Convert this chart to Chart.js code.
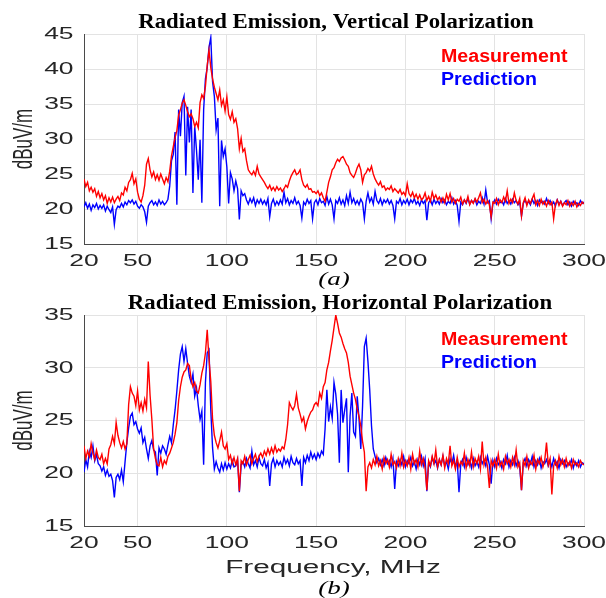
<!DOCTYPE html>
<html><head><meta charset="utf-8">
<script src="https://cdn.jsdelivr.net/npm/chart.js@4.4.1/dist/chart.umd.min.js"></script>
<style>
html,body{margin:0;padding:0;background:#fff;}
#wrap{position:relative;width:606px;height:598px;overflow:hidden;background:#fff;}
canvas{position:absolute;left:0;top:0;}
</style></head><body>
<div id="wrap"><canvas id="cv" width="606" height="598"></canvas><canvas id="ch" width="606" height="598"></canvas></div>
<script>
// ---------- DATA ----------
const freqMHz = [
 20,21,22,23,24,25,26,27,28,29,30,31,32,33,34,35,36,37,38,39,
 40,41,42,43,44,45,46,47,48,49,50,51,52,53,54,55,56,57,58,59,
 60,61,62,63,64,65,66,67,68,69,70,71,72,73,74,75,76,77,78,79,
 80,81,82,83,84,85,86,87,88,89,90,91,92,93,94,95,96,97,98,99,
 100,101,102,103,104,105,106,107,108,109,110,111,112,113,114,115,116,117,118,119,
 120,121,122,123,124,125,126,127,128,129,130,131,132,133,134,135,136,137,138,139,
 140,141,142,143,144,145,146,147,148,149,150,151,152,153,154,155,156,157,158,159,
 160,161,162,163,164,165,166,167,168,169,170,171,172,173,174,175,176,177,178,179,
 180,181,182,183,184,185,186,187,188,189,190,191,192,193,194,195,196,197,198,199,
 200,201,202,203,204,205,206,207,208,209,210,211,212,213,214,215,216,217,218,219,
 220,221,222,223,224,225,226,227,228,229,230,231,232,233,234,235,236,237,238,239,
 240,241,242,243,244,245,246,247,248,249,250,251,252,253,254,255,256,257,258,259,
 260,261,262,263,264,265,266,267,268,269,270,271,272,273,274,275,276,277,278,279,
 280,281,282,283,284,285,286,287,288,289,290,291,292,293,294,295,296,297,298,299,
 300
];

// (a) Vertical polarization
const vertMeasurement = [
 24.3,23.2,23.8,22.6,23.1,22.4,22.9,21.8,22.5,21.6,
 22.2,21.3,21.9,20.8,21.6,21.0,21.7,20.9,21.4,21.8,
 21.2,22.3,22.0,23.1,22.6,23.8,24.2,25.1,23.6,24.3,
 22.4,21.4,21.0,21.9,23.4,26.4,27.2,25.6,24.6,25.3,
 24.2,24.9,24.1,25.0,24.3,23.6,24.5,23.9,25.4,27.6,
 28.9,30.2,31.2,33.4,34.2,35.1,35.6,34.8,33.9,33.2,
 33.6,32.9,31.8,32.4,31.6,35.2,36.3,35.8,37.5,40.5,
 42.7,40.2,38.6,37.4,36.5,35.6,37.0,34.8,35.6,34.0,
 36.0,33.5,32.8,33.9,32.4,32.9,31.5,28.6,30.1,28.2,
 28.6,26.9,25.6,25.2,24.9,25.4,24.8,26.1,25.0,24.6,
 24.2,23.8,23.3,22.9,23.4,22.7,23.1,22.6,23.2,22.7,
 23.0,22.5,22.9,23.4,23.1,24.0,24.7,25.2,25.6,24.9,
 25.1,25.6,24.2,23.4,23.1,23.5,22.8,22.9,22.4,22.5,
 22.2,22.6,21.9,22.3,21.6,21.1,22.4,23.8,24.6,25.6,
 25.9,26.6,27.1,26.8,27.3,27.5,27.0,26.4,26.1,25.2,
 24.8,24.5,25.1,25.9,26.4,25.6,23.8,24.9,25.2,25.8,
 25.4,26.1,25.0,24.3,23.8,23.4,23.9,23.1,23.3,22.7,
 23.0,22.8,23.3,22.5,22.9,22.6,22.3,22.8,22.1,22.4,
 21.9,23.6,22.2,21.8,22.4,21.6,22.1,21.4,22.0,21.3,
 21.6,22.3,21.2,21.8,21.1,22.4,21.5,22.0,21.3,21.7,
 21.0,21.6,20.9,22.1,21.3,22.2,21.0,21.5,20.8,21.4,
 21.1,21.7,20.7,21.3,20.9,21.8,20.6,21.2,20.8,21.5,
 21.0,21.6,22.3,20.9,21.4,20.7,21.2,20.6,18.9,21.0,
 20.8,21.5,20.6,21.3,20.9,21.7,21.1,22.6,20.8,21.4,
 20.9,22.3,21.2,20.7,21.5,19.0,20.9,21.6,20.5,21.3,
 20.8,21.5,22.1,20.6,21.2,20.5,21.4,20.7,21.1,20.4,
 21.2,20.6,21.0,18.6,20.7,21.3,20.5,21.1,20.4,20.9,
 20.6,21.2,20.4,20.9,20.5,21.1,20.3,20.8,20.5,21.0,
 20.7
];
const vertPrediction = [
 20.3,20.9,20.1,20.7,19.8,20.6,20.2,20.8,20.0,20.5,
 20.1,20.6,19.7,20.4,19.9,19.5,20.3,17.8,19.9,20.4,
 20.2,20.8,20.3,21.0,20.6,21.2,20.9,21.3,20.7,21.1,
 20.4,20.1,20.6,20.3,19.6,18.1,20.4,20.9,21.2,20.6,
 21.0,20.5,21.3,20.7,21.1,20.6,20.9,21.4,23.3,26.9,
 27.8,31.0,20.6,34.2,30.4,35.2,36.1,24.8,34.6,29.5,
 34.2,22.3,31.8,28.4,24.2,29.9,20.9,34.2,38.6,40.2,
 43.1,44.5,38.2,36.1,31.3,33.0,20.4,29.8,27.5,28.6,
 26.0,20.8,25.2,24.3,22.6,24.0,22.9,18.5,22.6,21.9,
 22.2,21.3,20.7,21.5,20.9,21.6,20.5,21.3,20.8,21.4,
 20.7,21.2,20.6,21.5,18.9,20.8,21.4,20.5,21.1,20.6,
 21.3,20.7,22.4,20.9,21.5,20.6,21.2,20.8,21.6,20.7,
 21.1,20.5,18.7,21.0,20.6,21.4,20.8,21.2,18.6,20.9,
 21.3,20.6,21.5,20.9,21.1,20.5,21.8,20.7,21.4,20.6,
 18.6,21.2,20.8,21.6,20.7,21.3,20.5,21.9,20.8,22.4,
 20.9,21.5,20.7,21.2,20.6,21.4,20.9,18.6,21.1,22.3,
 21.0,21.6,20.7,22.5,21.2,20.8,21.5,20.6,21.3,20.9,
 21.4,20.7,21.2,20.5,18.6,21.1,20.8,21.5,20.6,21.2,
 20.8,21.4,20.6,21.3,20.9,21.5,20.7,21.1,20.5,21.3,
 20.8,21.2,18.4,20.9,21.3,20.6,21.4,20.8,21.2,20.7,
 21.5,20.9,21.3,20.6,21.1,20.8,21.6,20.7,21.2,20.5,
 18.2,21.0,20.6,21.3,20.8,21.5,20.7,21.2,20.9,21.4,
 20.6,21.1,20.8,21.6,20.7,22.7,20.9,21.2,18.6,20.8,
 21.3,20.7,21.4,20.9,21.1,20.6,21.5,20.8,21.2,20.7,
 21.4,20.9,21.2,20.6,21.0,19.0,20.8,21.3,20.7,21.1,
 20.6,21.4,20.8,21.2,20.5,21.3,20.9,21.1,20.7,21.5,
 20.8,21.2,20.6,21.0,20.4,21.3,20.7,21.1,20.5,20.9,
 21.2,20.6,21.0,20.4,21.1,20.7,20.9,20.5,21.2,20.8,
 21.0
];

// (b) Horizontal polarization
const horizMeasurement = [
 22.6,21.4,22.1,21.6,22.8,21.9,21.3,22.2,21.5,21.3,
 21.8,20.9,21.4,20.9,22.3,22.7,23.5,22.8,24.8,23.6,
 22.9,22.4,23.0,22.3,22.8,26.5,28.2,27.6,27.3,26.4,
 27.8,26.0,26.7,25.9,27.0,26.2,30.6,27.4,25.1,22.3,
 21.4,20.8,20.7,21.5,20.6,21.2,20.9,21.6,21.9,22.4,
 22.9,23.7,24.8,26.9,28.2,29.1,29.6,29.8,30.4,30.2,
 28.9,28.2,28.6,27.8,27.6,28.4,29.5,30.2,31.4,33.6,
 30.8,28.7,25.1,23.6,22.9,22.4,23.1,23.9,22.6,22.3,
 22.8,21.3,21.7,20.9,21.5,20.8,21.4,18.3,21.2,20.9,
 21.6,20.8,21.3,21.7,20.9,21.4,21.8,21.1,21.6,21.9,
 21.5,22.1,21.7,22.3,21.8,22.4,21.9,22.6,22.0,22.3,
 22.1,22.5,22.3,23.2,24.6,26.7,26.3,26.0,26.4,27.5,
 26.2,25.6,24.9,25.3,24.2,24.9,25.4,25.8,26.0,26.5,
 26.7,26.4,27.6,27.1,28.2,28.6,29.8,30.5,31.6,32.6,
 33.8,35.0,34.2,33.3,32.9,32.3,31.8,31.4,30.5,29.2,
 28.4,27.6,27.0,26.1,25.4,24.5,23.0,22.0,18.3,20.6,
 21.0,20.5,21.3,20.8,21.6,20.7,21.2,20.4,21.5,20.9,
 21.3,20.6,21.8,20.8,21.1,20.5,21.4,20.7,21.9,20.6,
 21.2,20.7,21.5,20.4,21.8,20.9,21.3,20.6,22.1,20.8,
 21.4,20.5,18.4,21.2,20.7,21.6,20.9,22.2,20.6,21.3,
 20.8,21.7,20.5,21.4,20.9,22.6,20.7,21.2,20.4,21.5,
 20.6,21.1,20.8,21.9,20.5,21.3,20.7,22.0,20.6,21.4,
 20.9,21.6,20.4,23.0,20.8,21.5,20.6,18.6,21.2,20.7,
 21.3,20.5,21.8,20.7,21.1,20.4,21.6,20.9,21.3,20.6,
 21.5,20.8,22.2,20.6,21.0,18.4,21.2,20.7,21.6,20.5,
 21.1,20.8,21.7,20.4,21.3,20.9,21.5,20.6,21.2,22.9,
 20.8,21.4,18.0,20.7,21.2,20.5,21.6,20.8,21.3,20.6,
 21.4,20.7,21.1,20.5,21.3,20.8,21.0,20.6,21.2,20.9,
 20.8
];
const horizPrediction = [
 20.1,21.3,20.6,22.1,21.5,22.6,21.2,21.8,20.9,20.7,
 20.2,20.6,19.8,20.3,19.7,19.9,19.3,17.7,19.6,19.9,
 19.4,20.3,19.2,21.1,22.9,24.3,25.4,25.7,24.6,24.9,
 24.2,23.8,24.3,22.9,23.4,22.3,21.4,22.6,23.1,22.2,
 22.0,19.8,22.4,21.9,22.6,22.3,21.8,22.7,23.5,22.9,
 24.6,26.0,27.8,29.8,31.3,32.0,30.6,31.8,30.4,29.2,
 28.6,29.4,27.3,28.1,26.4,25.1,25.9,20.8,28.6,31.4,
 31.7,26.0,22.4,20.4,21.1,20.5,20.1,20.9,20.3,21.0,
 20.4,20.9,20.5,21.2,20.6,20.7,21.3,18.2,20.8,21.1,
 20.6,21.4,20.9,20.5,22.1,20.8,21.2,20.6,21.5,20.9,
 20.7,21.3,20.5,21.0,18.8,20.9,21.4,20.6,21.2,20.8,
 21.1,20.6,21.5,20.9,21.3,20.7,21.6,21.0,20.8,21.4,
 20.9,21.2,18.8,21.5,21.0,21.7,21.2,22.0,21.4,21.8,
 21.3,21.9,21.5,22.1,21.8,24.2,27.9,24.9,26.3,25.2,
 28.6,27.5,25.6,21.0,27.9,24.8,26.0,27.1,20.1,25.4,
 27.6,23.9,23.5,27.3,25.2,22.3,26.4,32.0,32.8,30.6,
 27.9,24.5,22.3,21.6,21.0,21.4,20.8,21.3,20.7,21.5,
 20.9,21.2,20.6,21.4,18.5,21.1,20.7,21.3,20.8,21.6,
 20.6,21.2,20.9,21.5,20.7,21.1,20.4,21.3,20.8,21.6,
 20.7,21.4,18.3,21.0,20.6,21.5,20.9,21.2,20.5,21.3,
 20.8,21.6,20.7,21.1,20.4,21.4,20.9,21.7,20.6,21.2,
 18.2,20.9,21.3,20.6,21.5,20.8,21.2,20.5,21.4,20.7,
 21.1,20.6,21.5,20.9,21.3,20.7,21.6,20.8,19.0,21.2,
 20.6,21.4,20.8,21.1,20.5,21.3,20.9,21.7,20.6,21.2,
 20.8,21.5,20.7,21.2,20.6,18.4,21.0,21.4,20.7,21.3,
 20.9,21.6,20.6,21.2,20.8,21.4,20.5,21.1,20.9,21.3,
 20.7,21.2,20.6,21.4,20.8,21.1,20.5,21.3,20.9,21.2,
 20.6,21.0,20.8,21.3,20.5,21.1,20.7,21.2,20.6,21.0,
 20.9
];

const xTickValues = [20, 50, 100, 150, 200, 250, 300];
const vertYTicks = [15, 20, 25, 30, 35, 40, 45];
const horizYTicks = [15, 20, 25, 30, 35];
const seriesNames = ['Measurement', 'Prediction'];
const titleVert = 'Radiated Emission, Vertical Polarization';
const titleHoriz = 'Radiated Emission, Horizontal Polarization';
const yAxisTitle = 'dBuV/m';
const xAxisTitle = 'Frequency, MHz';
const captionA = '(a)';
const captionB = '(b)';

// ---------- DRAWING ----------
const SANS = '"Liberation Sans", Arial, sans-serif';
const SERIF = '"Liberation Serif", "Times New Roman", serif';
const STRETCH = 1.65;

function sText(ctx, s, x, y, font, color, align, sx, baseline) {
  ctx.save();
  ctx.font = font;
  ctx.fillStyle = color;
  ctx.textAlign = align;
  ctx.textBaseline = baseline || 'alphabetic';
  ctx.translate(x, y);
  ctx.scale(sx, 1);
  ctx.fillText(s, 0, 0);
  ctx.restore();
}
function vText(ctx, s, x, y, font, color, sy) {
  ctx.save();
  ctx.font = font;
  ctx.fillStyle = color;
  ctx.textAlign = 'center';
  ctx.textBaseline = 'middle';
  ctx.translate(x, y);
  ctx.rotate(-Math.PI / 2);
  ctx.scale(1, sy);
  ctx.fillText(s, 0, 0);
  ctx.restore();
}

function makeChart(id, meas, pred, yTicks, box, tx) {
  const toXY = arr => arr.map((v, i) => ({ x: freqMHz[i], y: v }));
  const gridOpts = { color: '#e3e3e3', lineWidth: 1, drawTicks: false };
  const borderOpts = { display: true, color: '#4a4a4a', width: 1 };
  return new Chart(document.getElementById(id), {
    type: 'line',
    data: {
      datasets: [
        { label: seriesNames[0], data: toXY(meas), borderColor: '#ff0000', borderWidth: 1.4,
          pointRadius: 0, tension: 0, fill: false, order: 0 },
        { label: seriesNames[1], data: toXY(pred), borderColor: '#0000ff', borderWidth: 1.4,
          pointRadius: 0, tension: 0, fill: false, order: 1 }
      ]
    },
    options: {
      responsive: false, animation: false, devicePixelRatio: 1,
      layout: { padding: { left: box.left, right: 606 - box.right, top: box.top, bottom: 598 - box.bottom } },
      plugins: { legend: { display: false }, tooltip: { enabled: false }, title: { display: false } },
      scales: {
        x: { type: 'linear', min: 20, max: 300,
             afterBuildTicks: a => { a.ticks = xTickValues.map(v => ({ value: v })); },
             ticks: { display: false }, grid: gridOpts, border: borderOpts },
        y: { type: 'linear', min: yTicks[0], max: yTicks[yTicks.length - 1],
             afterBuildTicks: a => { a.ticks = yTicks.map(v => ({ value: v })); },
             ticks: { display: false }, grid: gridOpts, border: borderOpts }
      }
    },
    plugins: [{
      id: 'texts',
      afterDraw(chart) {
        const ctx = chart.ctx, xs = chart.scales.x, ys = chart.scales.y, a = chart.chartArea;
        yTicks.forEach(v => sText(ctx, String(v), a.left - 10.5, ys.getPixelForValue(v) + 0.5,
          '16px ' + SANS, '#262626', 'right', STRETCH, 'middle'));
        xTickValues.forEach(v => sText(ctx, String(v), xs.getPixelForValue(v), a.bottom + tx.xLabDy,
          '16px ' + SANS, '#262626', 'center', STRETCH, 'middle'));
        vText(ctx, yAxisTitle, 24, (a.top + a.bottom) / 2, '17px ' + SANS, '#262626', 1.6);
        sText(ctx, tx.title, tx.titleX, tx.titleY, 'bold 20px ' + SERIF, '#000', 'center', 1.14);
        sText(ctx, seriesNames[0], 441, tx.legY, 'bold 18px ' + SANS, '#ff0000', 'left', 1.09);
        sText(ctx, seriesNames[1], 441, tx.legY + 23, 'bold 18px ' + SANS, '#0000ff', 'left', 1.09);
        if (tx.xTitle) sText(ctx, tx.xTitle, 333, tx.xTitleY, '18px ' + SANS, '#262626', 'center', STRETCH);
        sText(ctx, tx.caption, 334, tx.capY, 'italic 18px ' + SERIF, '#000', 'center', 1.5);
      }
    }]
  });
}

makeChart('cv', vertMeasurement, vertPrediction, vertYTicks,
  { left: 84, right: 584, top: 34, bottom: 244 },
  { title: titleVert, titleX: 336, titleY: 28, legY: 62, xLabDy: 18, caption: captionA, capY: 285 });
makeChart('ch', horizMeasurement, horizPrediction, horizYTicks,
  { left: 84, right: 584, top: 315, bottom: 526 },
  { title: titleHoriz, titleX: 340, titleY: 308.5, legY: 345, xLabDy: 17.5,
    xTitle: xAxisTitle, xTitleY: 573, caption: captionB, capY: 594 });
</script>
</body></html>
